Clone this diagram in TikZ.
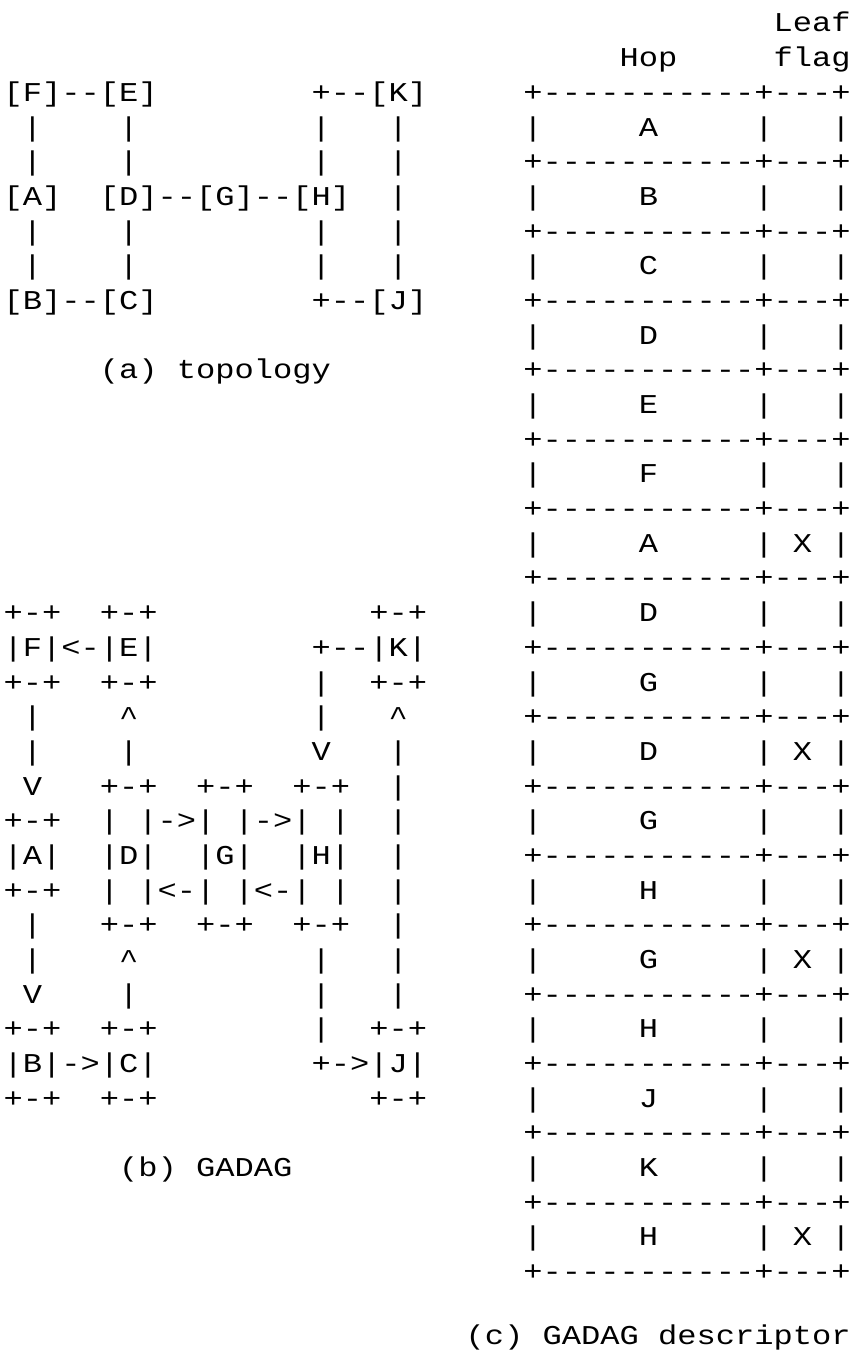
\documentclass[tikz,border=0pt]{standalone}
\usepackage{fontspec}
\newfontfamily\asciifont{Liberation Mono}[FakeStretch=1.1794]
\tikzset{
  ascii/.style={font={\asciifont\fontsize{13.6pt}{17.34pt}\selectfont}, inner sep=0pt, outer sep=0pt, anchor=base west},
}
\begin{document}
\begin{tikzpicture}[x=9.625pt, y=-17.3425pt, shift={(1.85pt,-16pt)}]
    \useasboundingbox (-1.85pt,16pt) rectangle (424.65pt,-660.5pt);

    % (a) topology
    \node[ascii] (topoFE) at (0,2) {[F]--[E]~~~~~~~~+--[K]};
    \node[ascii] (topoUa) at (0,3) {~|~~~~|~~~~~~~~~|~~~|};
    \node[ascii] (topoUb) at (0,4) {~|~~~~|~~~~~~~~~|~~~|};
    \node[ascii] (topoAD) at (0,5) {[A]~~[D]--[G]--[H]~~|};
    \node[ascii] (topoLa) at (0,6) {~|~~~~|~~~~~~~~~|~~~|};
    \node[ascii] (topoLb) at (0,7) {~|~~~~|~~~~~~~~~|~~~|};
    \node[ascii] (topoBC) at (0,8) {[B]--[C]~~~~~~~~+--[J]};
    \node[ascii] (capa) at (5,10) {(a)~topology};

    % (b) GADAG
    \node[ascii] (gadF1) at (0,17) {+-+~~+-+~~~~~~~~~~~+-+};
    \node[ascii] (gadF2) at (0,18) {|F|<-|E|~~~~~~~~+--|K|};
    \node[ascii] (gadF3) at (0,19) {+-+~~+-+~~~~~~~~|~~+-+};
    \node[ascii] (gadU1) at (0,20) {~|~~~~\textasciicircum~~~~~~~~~|~~~\textasciicircum};
    \node[ascii] (gadU2) at (0,21) {~|~~~~|~~~~~~~~~V~~~|};
    \node[ascii] (gadD1) at (0,22) {~V~~~+-+~~+-+~~+-+~~|};
    \node[ascii] (gadD2) at (0,23) {+-+~~|~|->|~|->|~|~~|};
    \node[ascii] (gadD3) at (0,24) {|A|~~|D|~~|G|~~|H|~~|};
    \node[ascii] (gadD4) at (0,25) {+-+~~|~|<-|~|<-|~|~~|};
    \node[ascii] (gadD5) at (0,26) {~|~~~+-+~~+-+~~+-+~~|};
    \node[ascii] (gadL1) at (0,27) {~|~~~~\textasciicircum~~~~~~~~~|~~~|};
    \node[ascii] (gadL2) at (0,28) {~V~~~~|~~~~~~~~~|~~~|};
    \node[ascii] (gadB1) at (0,29) {+-+~~+-+~~~~~~~~|~~+-+};
    \node[ascii] (gadB2) at (0,30) {|B|->|C|~~~~~~~~+->|J|};
    \node[ascii] (gadB3) at (0,31) {+-+~~+-+~~~~~~~~~~~+-+};
    \node[ascii] (capb) at (6,33) {(b)~GADAG};

    % (c) GADAG descriptor
    \node[ascii] (leaf) at (40,0) {Leaf};
    \node[ascii] (hop) at (32,1) {Hop~~~~~flag};
    \foreach \r in {0,...,17}
        \node[ascii] (rule\r) at (27,{2+2*\r}) {+-----------+---+};
    \foreach \h/\f [count=\i] in {A/~,B/~,C/~,D/~,E/~,F/~,A/X,D/~,G/~,D/X,G/~,H/~,G/X,H/~,J/~,K/~,H/X}
        \node[ascii] (entry\i) at (27,{1+2*\i}) {|~~~~~\h~~~~~|~\f~|};
    \node[ascii] (capc) at (24,37.85) {(c)~GADAG~descriptor};
\end{tikzpicture}
\end{document}
